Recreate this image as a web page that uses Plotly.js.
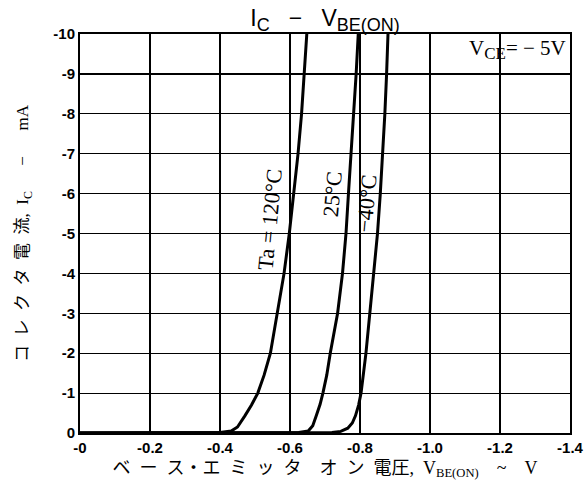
<!DOCTYPE html>
<html>
<head>
<meta charset="utf-8">
<script src="https://cdn.plot.ly/plotly-3.0.1.min.js"></script>
<style>html,body{margin:0;padding:0;background:#fff;}#chart{width:584px;height:490px;}</style>
</head>
<body>
<div id="chart"></div>
<script>
// Base-emitter voltage (V) and collector current (mA) for each ambient temperature
const vbe120 = [0, -0.30, -0.40, -0.432, -0.45, -0.471, -0.49, -0.508, -0.526, -0.544, -0.563, -0.583, -0.598, -0.611, -0.623, -0.633, -0.641, -0.648];
const ic120  = [0, 0, -0.01, -0.05, -0.15, -0.43, -0.70, -1.0, -1.45, -2.0, -3.0, -4.0, -5.0, -6.0, -7.0, -8.0, -9.0, -10];

const vbe25 = [0, -0.55, -0.625, -0.652, -0.665, -0.675, -0.686, -0.694, -0.705, -0.715, -0.736, -0.750, -0.760, -0.767, -0.775, -0.782, -0.789, -0.795];
const ic25  = [0, 0, -0.01, -0.05, -0.18, -0.43, -0.72, -1.0, -1.45, -2.0, -3.0, -4.0, -5.0, -6.0, -7.0, -8.0, -9.0, -10];

const vbeM40 = [0, -0.65, -0.72, -0.745, -0.765, -0.778, -0.787, -0.796, -0.803, -0.810, -0.817, -0.828, -0.840, -0.850, -0.858, -0.865, -0.871, -0.876, -0.880];
const icM40  = [0, 0, -0.01, -0.04, -0.12, -0.25, -0.43, -0.70, -1.0, -1.5, -2.0, -3.0, -4.0, -5.0, -6.0, -7.0, -8.0, -9.0, -10];

const xTickVals = [0, -0.2, -0.4, -0.6, -0.8, -1.0, -1.2, -1.4];
const xTickText = ["-0", "-0.2", "-0.4", "-0.6", "-0.8", "-1.0", "-1.2", "-1.4"];
const yTickVals = [0, -1, -2, -3, -4, -5, -6, -7, -8, -9, -10];
const yTickText = ["0", "-1", "-2", "-3", "-4", "-5", "-6", "-7", "-8", "-9", "-10"];

const curveLabels = ["Ta = 120°C", "25°C", "\u221240°C"];

const lineStyle = {color: "#000", width: 3};
const traces = [
  {x: vbe120, y: ic120, mode: "lines", line: lineStyle, name: "120"},
  {x: vbe25, y: ic25, mode: "lines", line: lineStyle, name: "25"},
  {x: vbeM40, y: icM40, mode: "lines", line: lineStyle, name: "-40"}
];

const serif = "Liberation Serif, Noto Sans CJK JP, serif";
const tickFont = {family: "Liberation Sans, Arial, sans-serif", size: 15, color: "#000", weight: "bold"};

const layout = {
  width: 584, height: 490,
  margin: {l: 80, r: 14, t: 34, b: 57},
  paper_bgcolor: "#fff", plot_bgcolor: "#fff",
  showlegend: false,
  title: {
    text: "I<sub><span style='font-size:18px'>C</span></sub>\u00a0\u00a0\u00a0\u2212\u00a0\u00a0\u00a0V<sub><span style='font-size:18px'>BE(ON)</span></sub>",
    font: {family: "Liberation Sans, Arial, sans-serif", size: 23, color: "#000"},
    xref: "paper", x: 0.5, xanchor: "center",
    yref: "container", y: 1 - 18/490, yanchor: "middle"
  },
  xaxis: {
    range: [0, -1.4],
    tickvals: xTickVals, ticktext: xTickText,
    tickfont: tickFont, ticks: "",
    showgrid: true, gridcolor: "#000", gridwidth: 1.2,
    zeroline: false,
    showline: true, linecolor: "#000", linewidth: 2, mirror: true,
    title: {
      text: "ベ\u2002ー\u2002ス・エ\u2002ミ\u2002ッ\u2002タ\u2003オ\u2002ン\u2002電圧,\u2002V<sub>BE(ON)</sub>\u2003~\u2003V",
      font: {family: serif, size: 18, color: "#000"},
      standoff: 6
    },
    fixedrange: true
  },
  yaxis: {
    range: [0, -10],
    tickvals: yTickVals, ticktext: yTickText,
    tickfont: tickFont, ticks: "",
    showgrid: true, gridcolor: "#000", gridwidth: 1.2,
    zeroline: false,
    showline: true, linecolor: "#000", linewidth: 2, mirror: true,
    title: {
      text: "コ\u2002レ\u2002ク\u2002タ\u2002電\u2002流,\u2002I<sub>C</sub>\u2003\u2002\u2212\u2003\u2002mA",
      font: {family: serif, size: 17, color: "#000"},
      standoff: 20
    },
    fixedrange: true
  },
  annotations: [
    {text: "V<sub><span style='font-size:17px'>CE</span></sub>= \u2212 5V", xref: "paper", yref: "paper", x: 1, y: 1,
     xanchor: "right", yanchor: "top", xshift: -2, yshift: 0, showarrow: false,
     font: {family: serif, size: 21, color: "#000"}},
    {text: curveLabels[0], x: -0.568, y: -5.35, textangle: -84.6, showarrow: false, xshift: -9,
     font: {family: serif, size: 22, color: "#000"}},
    {text: curveLabels[1], x: -0.731, y: -5.99, textangle: -84.6, showarrow: false, xshift: -4,
     font: {family: serif, size: 22, color: "#000"}},
    {text: curveLabels[2], x: -0.832, y: -5.76, textangle: -84.6, showarrow: false, xshift: -5,
     font: {family: serif, size: 22, color: "#000"}}
  ]
};

Plotly.newPlot("chart", traces, layout, {staticPlot: true, displayModeBar: false});
</script>
</body>
</html>
